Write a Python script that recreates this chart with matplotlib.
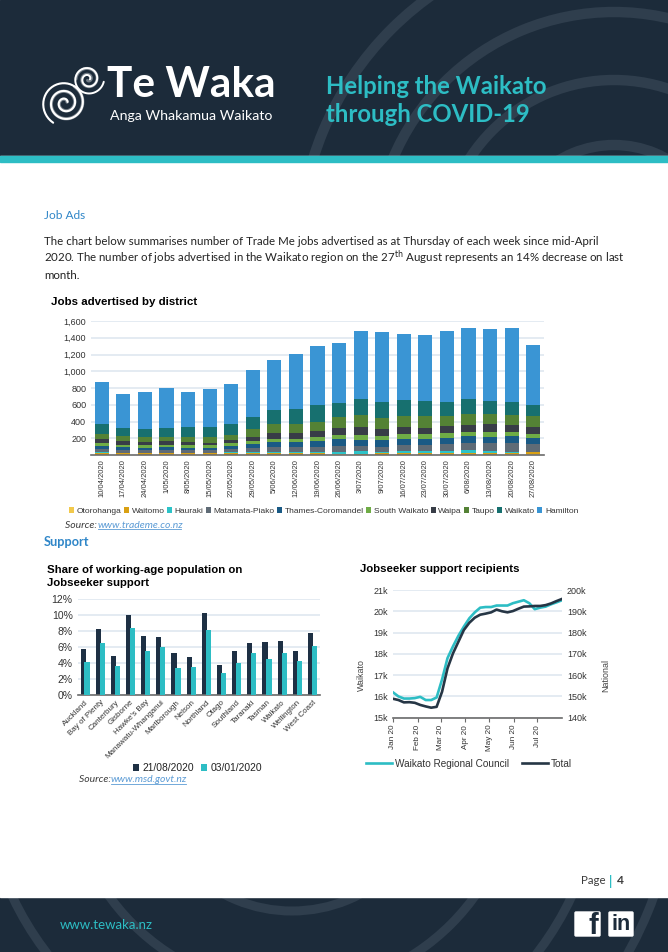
"""Te Waka report page: job ads and Jobseeker support charts"""

import numpy as np
import pandas as pd
import matplotlib
matplotlib.use("Agg")
import matplotlib.pyplot as plt
from matplotlib.patches import Arc, FancyBboxPatch, Rectangle

W, H = 668, 952
NAVY = "#1c2b3a"
TEAL = "#2dbdc4"
GREY = "#3c3c3c"
ARC = "#2f3e4d"
HEAD_BLUE = "#2f86c8"

week_labels = ["10/04/2020", "17/04/2020", "24/04/2020", "1/05/2020", "8/05/2020", "15/05/2020",
               "22/05/2020", "29/05/2020", "5/06/2020", "12/06/2020", "19/06/2020", "26/06/2020",
               "3/07/2020", "9/07/2020", "16/07/2020", "23/07/2020", "30/07/2020", "6/08/2020",
               "13/08/2020", "20/08/2020", "27/08/2020"]

otorohanga = [5, 4, 4, 5, 4, 4, 5, 5, 5, 5, 5, 6, 5, 5, 5, 5, 5, 5, 5, 6, 6]
waitomo = [15, 15, 15, 15, 15, 15, 15, 15, 15, 15, 15, 10, 10, 15, 15, 15, 15, 15, 20, 20, 25]
hauraki = [10, 5, 5, 5, 5, 5, 10, 20, 15, 10, 10, 20, 30, 15, 25, 25, 30, 35, 20, 15, 10]
matamata = [40, 35, 35, 35, 35, 35, 40, 45, 65, 60, 65, 70, 60, 65, 75, 75, 80, 85, 95, 100, 85]
thames = [40, 35, 30, 40, 30, 25, 40, 45, 55, 60, 70, 85, 80, 75, 75, 75, 75, 85, 80, 80, 80]
south_waikato = [30, 25, 25, 25, 30, 30, 30, 35, 40, 45, 45, 50, 55, 55, 50, 55, 55, 50, 60, 50, 45]
waipa = [50, 45, 40, 40, 35, 35, 40, 50, 65, 70, 75, 80, 100, 85, 85, 75, 85, 85, 85, 85, 85]
taupo = [65, 60, 55, 55, 55, 65, 60, 95, 110, 105, 115, 130, 135, 125, 135, 135, 115, 130, 120, 120, 125]
waikato = [120, 100, 105, 105, 120, 120, 130, 145, 170, 185, 200, 175, 195, 195, 195, 190, 175, 175, 165, 155, 135]
hamilton = [495, 410, 435, 480, 425, 460, 480, 565, 600, 650, 700, 715, 815, 830, 785, 785, 845, 850, 850, 880, 715]

district_names = ["Otorohanga", "Waitomo", "Hauraki", "Matamata-Piako", "Thames-Coromandel",
                  "South Waikato", "Waipa", "Taupo", "Waikato", "Hamilton"]
district_colors = ["#f2c94c", "#d9a013", "#2dc3c8", "#5f6b76", "#1a5a85",
                   "#6fac46", "#383d47", "#548235", "#17706f", "#3a95d4"]

regions = ["Auckland", "Bay of Plenty", "Canterbury", "Gisborne", "Hawke's Bay", "Manawatu-Whanganui",
           "Marlborough", "Nelson", "Northland", "Otago", "Southland", "Taranaki", "Tasman", "Waikato",
           "Wellington", "West Coast"]
share_aug = [5.8, 8.3, 4.9, 10.0, 7.4, 7.3, 5.2, 4.7, 10.3, 3.7, 5.5, 6.5, 6.6, 6.8, 5.5, 7.7]
share_jan = [4.1, 6.5, 3.6, 8.4, 5.5, 6.0, 3.4, 3.5, 8.2, 2.7, 4.0, 5.2, 4.5, 5.3, 4.3, 6.1]

waikato_recipients = [16.19, 16.0, 15.9, 15.9, 15.92, 15.98, 15.83, 15.83, 15.95, 16.8, 17.8,
                      18.35, 18.85, 19.28, 19.67, 19.95, 20.17, 20.2, 20.2, 20.27, 20.27, 20.27,
                      20.38, 20.45, 20.52, 20.38, 20.1, 20.17, 20.22, 20.33, 20.42, 20.52]
total_recipients = [148.9, 148.3, 147.2, 147.3, 147.0, 146.0, 145.3, 144.7, 145.1, 152.2, 163.2,
                    170.2, 175.7, 181.2, 184.6, 187.0, 188.4, 188.9, 189.5, 190.8, 190.0, 189.5,
                    190.1, 191.2, 192.2, 192.3, 192.5, 192.5, 192.9, 193.7, 194.8, 195.8]
month_labels = ["Jan 20", "Feb 20", "Mar 20", "Apr 20", "May 20", "Jun 20", "Jul 20"]

plt.rcParams["font.family"] = ["Liberation Sans", "DejaVu Sans"]

fig = plt.figure(figsize=(W / 100, H / 100), dpi=100)


def px_axes(left, top, right, bottom, **kw):
    """axes placed by page pixels, y counted from the top"""
    return fig.add_axes([left / W, 1 - bottom / H, (right - left) / W, (bottom - top) / H], **kw)


def style_axes(ax, grid="#dfe8f0"):
    ax.set_axisbelow(True)
    ax.grid(axis="y", color=grid, lw=1.2)
    ax.spines[["top", "left", "right"]].set_visible(False)
    ax.spines["bottom"].set_color("#6b6b6b")
    ax.spines["bottom"].set_linewidth(1.2)
    ax.tick_params(length=0)


def koru(cx, cy, r_max, turns, start_deg, col, lw):
    """one spiral of the logo, running inwards"""
    t = np.linspace(0, 1, 240)
    ang = np.radians(start_deg) + 2 * np.pi * turns * t
    r = r_max * (1 - 0.88 * t)
    page.plot(cx + r * np.cos(ang), cy + r * np.sin(ang), color=col, lw=lw,
              solid_capstyle="round", zorder=4)


# page layer, coordinates are pixels
page = fig.add_axes([0, 0, 1, 1])
page.set_xlim(0, W)
page.set_ylim(H, 0)
page.axis("off")

page.add_patch(Rectangle((0, 0), W, 156, color=NAVY, zorder=0))
page.add_patch(Rectangle((0, 897), W, 55, color=NAVY, zorder=0))

# background arcs of the banners, the white page hides what runs over it
for r in [315, 240, 172, 107]:
    page.add_patch(Arc((614, 252), 2 * r, 2 * r, color=ARC, lw=7.5, zorder=1))
for r in [146, 225, 309, 385]:
    page.add_patch(Arc((292, 765), 2 * r, 2 * r, color=ARC, lw=6.5, zorder=1))
page.add_patch(Rectangle((0, 156), W, 741, color="white", zorder=2))
page.add_patch(Rectangle((0, 156), W, 6, color=TEAL, zorder=3))

# logo
koru(65, 103, 19, 2.1, 300, "#737d87", 2.4)
koru(65, 103, 23, 2.6, 121, "white", 1.5)
koru(88, 79, 12, 1.8, 180, "#737d87", 2.2)
koru(88, 79, 16, 2.0, 10, "white", 1.4)

page.text(107, 85, "Te Waka", color="white", fontsize=30.5, fontweight="bold", family="Lato",
          va="center", zorder=5)
page.text(110, 116, "Anga Whakamua Waikato", color="white", fontsize=10.2, family="Lato", va="center", zorder=5)
page.text(326, 86, "Helping the Waikato", color=TEAL, fontsize=17.2, fontweight="bold", family="Lato",
          va="center", zorder=5)
page.text(326, 114, "through COVID-19", color=TEAL, fontsize=17.2, fontweight="bold", family="Lato",
          va="center", zorder=5)

body_font = dict(family="Lato", color="#222222", zorder=5)
page.text(44, 215.5, "Job Ads", fontsize=8.6, family="Lato", color=HEAD_BLUE, va="center", zorder=5)
page.text(44, 245, "The chart below summarises number of Trade Me jobs advertised as at Thursday of each week since mid-April",
          fontsize=8.28, va="baseline", **body_font)
page.text(44, 262, "2020. The number of jobs advertised in the Waikato region on the 27$^{\\mathrm{th}}$ August represents an 14% decrease on last",
          fontsize=8.28, va="baseline", **body_font)
page.text(44, 279, "month.", fontsize=8.28, va="baseline", **body_font)

page.text(51, 302, "Jobs advertised by district", fontsize=8.25, fontweight="bold", va="center", zorder=5)
page.text(65, 525, "Source: ", fontsize=7.5, style="italic", family="Lato", color=GREY, va="center", zorder=5)
page.text(98, 525, "www.trademe.co.nz", fontsize=7.5, style="italic", family="Lato", color="#5b9bd5",
          va="center", zorder=5)
page.plot([98, 181], [529, 529], color="#5b9bd5", lw=0.6, zorder=5)
page.text(44, 542, "Support", fontsize=9.2, fontweight="bold", family="Lato", color=HEAD_BLUE, va="center", zorder=5)

page.text(47, 570, "Share of working-age population on", fontsize=8.2, fontweight="bold", va="center", zorder=5)
page.text(47, 583, "Jobseeker support", fontsize=8.2, fontweight="bold", va="center", zorder=5)
page.text(360, 569, "Jobseeker support recipients", fontsize=8.2, fontweight="bold", va="center", zorder=5)

page.text(79, 780, "Source: ", fontsize=7.5, style="italic", family="Lato", color=GREY, va="center", zorder=5)
page.text(111, 780, "www.msd.govt.nz", fontsize=7.5, style="italic", family="Lato", color="#5b9bd5",
          va="center", zorder=5)
page.plot([111, 186], [784, 784], color="#5b9bd5", lw=0.6, zorder=5)

page.text(581, 881, "Page", fontsize=8.3, family="Lato", color=GREY, va="center", zorder=5)
page.text(609.5, 881, "|", fontsize=9, fontweight="bold", family="Lato", color=TEAL, va="center", zorder=5)
page.text(617, 881, "4", fontsize=8.6, fontweight="bold", family="Lato", color=GREY, va="center", zorder=5)

# footer
page.text(60, 925, "www.tewaka.nz", color=TEAL, fontsize=9.5, family="Lato", va="center", zorder=5)
for x0, w in [(575, 25), (609, 24)]:
    page.add_patch(FancyBboxPatch((x0 + 1, 913), w - 2, 22, boxstyle="round,pad=1", color="white", zorder=5))
page.text(593, 926, "f", color=NAVY, fontsize=21, fontweight="bold", ha="center", va="center", zorder=6)
page.text(621, 925, "in", color=NAVY, fontsize=15.5, fontweight="bold", ha="center", va="center", zorder=6)

# jobs advertised by district
ax1 = px_axes(91, 321, 544, 455)
x1 = np.arange(len(week_labels))
series = [otorohanga, waitomo, hauraki, matamata, thames, south_waikato, waipa, taupo, waikato, hamilton]
base = np.zeros(len(week_labels))
for vals, name, col in zip(series, district_names, district_colors):
    ax1.bar(x1, vals, 0.66, bottom=base, color=col, label=name)
    base += np.array(vals)
ax1.set_xlim(-0.5, len(week_labels) - 0.5)
ax1.set_ylim(0, 1600)
ax1.set_yticks(range(200, 1601, 200))
ax1.set_yticklabels([f"{v:,}" for v in range(200, 1601, 200)], fontsize=6.5, color="#333333")
ax1.set_xticks(x1)
ax1.set_xticklabels(week_labels, rotation=90, fontsize=5.5, color="#333333")
ax1.tick_params(axis="x", pad=3)
style_axes(ax1)
ax1.legend(loc="upper center", bbox_to_anchor=(0.514, -0.335), ncol=10, frameon=False, fontsize=6.0,
           handlelength=0.6, handleheight=0.6, handletextpad=0.3, columnspacing=0.3, labelcolor="#333333")

# share of working-age population
ax2 = px_axes(77.5, 599.3, 320, 694.7)
x2 = np.arange(len(regions))
ax2.bar(x2 - 0.13, share_aug, 0.34, color="#1e3044", label="21/08/2020", zorder=2)
ax2.bar(x2 + 0.13, share_jan, 0.34, color=TEAL, label="03/01/2020", zorder=3)
ax2.set_xlim(-0.5, len(regions) - 0.5)
ax2.set_ylim(0, 12)
ax2.set_yticks(range(0, 13, 2))
ax2.set_yticklabels([f"{v}%" for v in range(0, 13, 2)], fontsize=7.5, color="#333333")
ax2.set_xticks(x2)
ax2.set_xticklabels(regions, rotation=45, ha="right", rotation_mode="anchor", fontsize=5.8, color="#333333")
ax2.tick_params(axis="x", pad=3)
style_axes(ax2)
ax2.legend(loc="upper center", bbox_to_anchor=(0.495, -0.62), ncol=2, frameon=False, fontsize=7.4,
           handlelength=0.6, handleheight=0.7, handletextpad=0.3, columnspacing=0.7, labelcolor="#222222")

# recipients, two axes
ax3 = px_axes(393, 590, 562, 717.7)
dates = pd.date_range("2020-01-01", "2020-08-01", periods=len(waikato_recipients))
ax3.plot(dates, waikato_recipients, color=TEAL, lw=1.9, label="Waikato Regional Council", zorder=3)
ax3.set_ylim(15, 21)
ax3.set_yticks(range(15, 22))
ax3.set_yticklabels([f"{v}k" for v in range(15, 22)], fontsize=6.5, color="#333333")
ticks = pd.date_range("2020-01-01", "2020-07-01", freq="MS")
ax3.set_xticks(ticks)
ax3.set_xticklabels(month_labels, rotation=90, fontsize=5.9, color="#333333")
ax3.set_xlim(dates[0], dates[-1])
style_axes(ax3)
ax3.tick_params(axis="x", length=3, color="#6b6b6b", pad=2)
ax3.set_ylabel("Waikato", fontsize=6.4, color="#444444")
ax3.yaxis.set_label_coords(-0.16, 0.334)

ax3r = ax3.twinx()
ax3r.plot(dates, total_recipients, color="#263645", lw=1.9, label="Total", zorder=4)
ax3r.set_ylim(140, 200)
ax3r.set_yticks(range(140, 201, 10))
ax3r.set_yticklabels([f"{v}k" for v in range(140, 201, 10)], fontsize=6.5, color="#333333")
ax3r.spines[["top", "left", "right", "bottom"]].set_visible(False)
ax3r.tick_params(length=0)
ax3r.set_ylabel("National", fontsize=6.4, color="#444444")
ax3r.yaxis.set_label_coords(1.23, 0.33)

h1, l1 = ax3.get_legend_handles_labels()
h2, l2 = ax3r.get_legend_handles_labels()
ax3.legend(h1 + h2, l1 + l2, loc="upper center", bbox_to_anchor=(0.45, -0.25), ncol=2, frameon=False,
           fontsize=7.2, handlelength=2.6, handletextpad=0.3, columnspacing=1.3, labelcolor="#333333")

fig.savefig("out.png", dpi=100)
plt.close()
